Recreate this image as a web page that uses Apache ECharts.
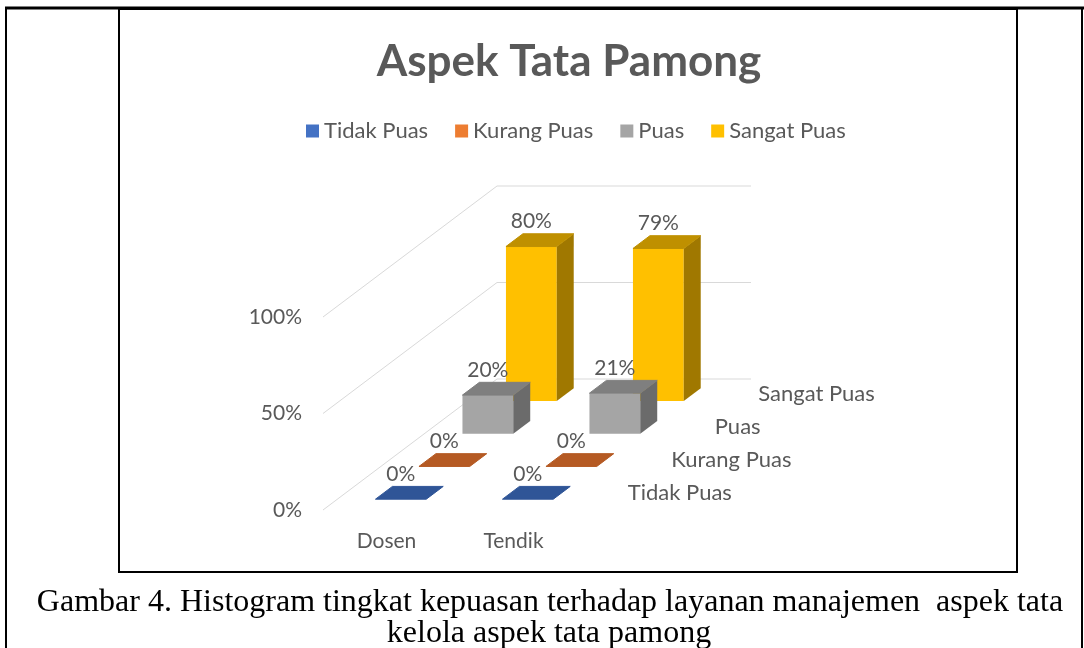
<!DOCTYPE html>
<html>
<head>
<meta charset="utf-8">
<script src="https://cdn.jsdelivr.net/npm/echarts@6/dist/echarts.min.js"></script>
<style>
  html, body { margin: 0; padding: 0; background: #fff; }
  #chart { width: 1084px; height: 648px; }
</style>
</head>
<body>
<div id="chart"></div>
<script>
// data
const categories = ['Dosen', 'Tendik'];
const seriesNames = ['Tidak Puas', 'Kurang Puas', 'Puas', 'Sangat Puas'];
const tidakPuas = [0, 0];
const kurangPuas = [0, 0];
const puas = [20, 21];
const sangatPuas = [80, 79];
const valueTicks = [0, 50, 100];

const seriesValues = [tidakPuas, kurangPuas, puas, sangatPuas];

// colours: front face, top face, side face
const frontColors = ['#4472C4', '#ED7D31', '#A5A5A5', '#FFC000'];
const topColors = ['#2F5597', '#B55A23', '#7F7F7F', '#BF9000'];
const sideColors = ['#264478', '#9E480E', '#6B6B6B', '#A07800'];

// 3d look: how far the back wall sits from the front plane
const DEPTH_X = 174;
const DEPTH_Y = -131;
const SLOT_FRONT = 0.33;
const SLOT_BACK = 0.72;
const FONT = 'Lato, "Noto Sans", sans-serif';
const TEXT_COLOR = '#595959';

const chart = echarts.init(document.getElementById('chart'));

// gridlines on left wall + back wall
const renderWall = (params, api) => {
  const cs = params.coordSys;
  const y = api.coord([0, api.value(1)])[1];
  const left = cs.x;
  return {
    type: 'polyline',
    shape: {
      points: [
        [left, y],
        [left + DEPTH_X, y + DEPTH_Y],
        [left + cs.width + DEPTH_X, y + DEPTH_Y]
      ]
    },
    style: { stroke: '#D9D9D9', lineWidth: 1, fill: null },
    silent: true
  };
};

// series names along the depth axis
const renderDepthLabel = (params, api) => {
  const cs = params.coordSys;
  const s = api.value(1);
  const f = (s + 0.5) / seriesNames.length;
  const base = api.coord([0, 0])[1];
  return {
    type: 'text',
    style: {
      x: cs.x + cs.width + DEPTH_X * f + 29,
      y: base + DEPTH_Y * f - 1,
      text: seriesNames[s],
      font: '22px ' + FONT,
      fill: TEXT_COLOR,
      align: 'left',
      verticalAlign: 'middle'
    },
    silent: true
  };
};

const makeBarRenderer = (s) => (params, api) => {
  const idx = api.value(0);
  const val = api.value(1);
  const n = seriesNames.length;
  const f0 = (s + SLOT_FRONT) / n;
  const f1 = (s + SLOT_BACK) / n;
  const dx0 = DEPTH_X * f0, dy0 = DEPTH_Y * f0;
  const dx1 = DEPTH_X * f1, dy1 = DEPTH_Y * f1;
  const basePt = api.coord([idx, 0]);
  const topPt = api.coord([idx, val]);
  const w = api.size([1, 0])[0] * 0.4;
  const x0 = basePt[0] - w / 2 + dx0;
  const x1 = basePt[0] + w / 2 + dx0;
  const yb = basePt[1] + dy0;
  const yt = topPt[1] + dy0;
  const ddx = dx1 - dx0, ddy = dy1 - dy0;
  const children = [];
  if (yb - yt > 0.5) {
    children.push({
      type: 'rect',
      shape: { x: x0, y: yt, width: x1 - x0, height: yb - yt },
      style: { fill: frontColors[s] }
    });
    children.push({
      type: 'polygon',
      shape: { points: [[x1, yt], [x1 + ddx, yt + ddy], [x1 + ddx, yb + ddy], [x1, yb]] },
      style: { fill: sideColors[s] }
    });
  }
  children.push({
    type: 'polygon',
    shape: { points: [[x0, yt], [x1, yt], [x1 + ddx, yt + ddy], [x0 + ddx, yt + ddy]] },
    style: { fill: topColors[s], stroke: topColors[s], lineWidth: 1 }
  });
  children.push({
    type: 'text',
    style: {
      x: (x0 + x1) / 2,
      y: yt - 25,
      text: val + '%',
      font: '21px ' + FONT,
      fill: TEXT_COLOR,
      align: 'center',
      verticalAlign: 'middle'
    }
  });
  return { type: 'group', children: children };
};

const barSeries = seriesNames.map((name, s) => ({
  name: name,
  type: 'custom',
  coordinateSystem: 'cartesian2d',
  z: 10 - s,
  itemStyle: { color: frontColors[s] },
  renderItem: makeBarRenderer(s),
  data: seriesValues[s].map((v, i) => [i, v])
}));

const option = {
  animation: false,
  backgroundColor: '#fff',
  title: {
    text: 'Aspek Tata Pamong',
    left: 564,
    textAlign: 'center',
    top: 35,
    textStyle: { fontFamily: FONT, fontSize: 44, fontWeight: 'bold', color: TEXT_COLOR }
  },
  legend: {
    data: seriesNames,
    left: 301,
    top: 115,
    icon: 'rect',
    itemWidth: 13,
    itemHeight: 13,
    itemGap: 27,
    textStyle: { fontFamily: FONT, fontSize: 22, color: TEXT_COLOR }
  },
  grid: { left: 323, top: 317, width: 254, height: 193 },
  xAxis: {
    type: 'category',
    data: categories,
    axisLine: { show: false },
    axisTick: { show: false },
    axisLabel: { margin: 21, fontFamily: FONT, fontSize: 21, color: TEXT_COLOR }
  },
  yAxis: {
    type: 'value',
    min: 0,
    max: 100,
    interval: 50,
    axisLine: { show: false },
    axisTick: { show: false },
    splitLine: { show: false },
    axisLabel: { margin: 21, formatter: '{value}%', fontFamily: FONT, fontSize: 21, color: TEXT_COLOR }
  },
  graphic: [
    // outer table frame
    { type: 'line', shape: { x1: 5, y1: 8, x2: 1084, y2: 8 }, style: { stroke: '#000', lineWidth: 3 } },
    { type: 'line', shape: { x1: 6, y1: 7, x2: 6, y2: 648 }, style: { stroke: '#000', lineWidth: 2 } },
    { type: 'line', shape: { x1: 1082, y1: 7, x2: 1082, y2: 648 }, style: { stroke: '#000', lineWidth: 2 } },
    // chart box
    { type: 'rect', shape: { x: 119, y: 9, width: 898, height: 563 }, style: { fill: null, stroke: '#000', lineWidth: 2 } },
    // caption
    {
      type: 'text', x: 550, y: 603,
      style: {
        text: 'Gambar 4. Histogram tingkat kepuasan terhadap layanan manajemen  aspek tata',
        font: '32px "Liberation Serif", "Times New Roman", serif',
        fill: '#000', align: 'center', verticalAlign: 'middle'
      }
    },
    {
      type: 'text', x: 549, y: 634,
      style: {
        text: 'kelola aspek tata pamong',
        font: '32px "Liberation Serif", "Times New Roman", serif',
        fill: '#000', align: 'center', verticalAlign: 'middle'
      }
    }
  ],
  series: [
    {
      name: 'walls',
      type: 'custom',
      coordinateSystem: 'cartesian2d',
      z: 1,
      silent: true,
      renderItem: renderWall,
      data: valueTicks.map((v) => [0, v])
    },
    {
      name: 'depthAxis',
      type: 'custom',
      coordinateSystem: 'cartesian2d',
      z: 1,
      silent: true,
      renderItem: renderDepthLabel,
      data: seriesNames.map((n, i) => [0, i])
    }
  ].concat(barSeries)
};

chart.setOption(option);
</script>
</body>
</html>
